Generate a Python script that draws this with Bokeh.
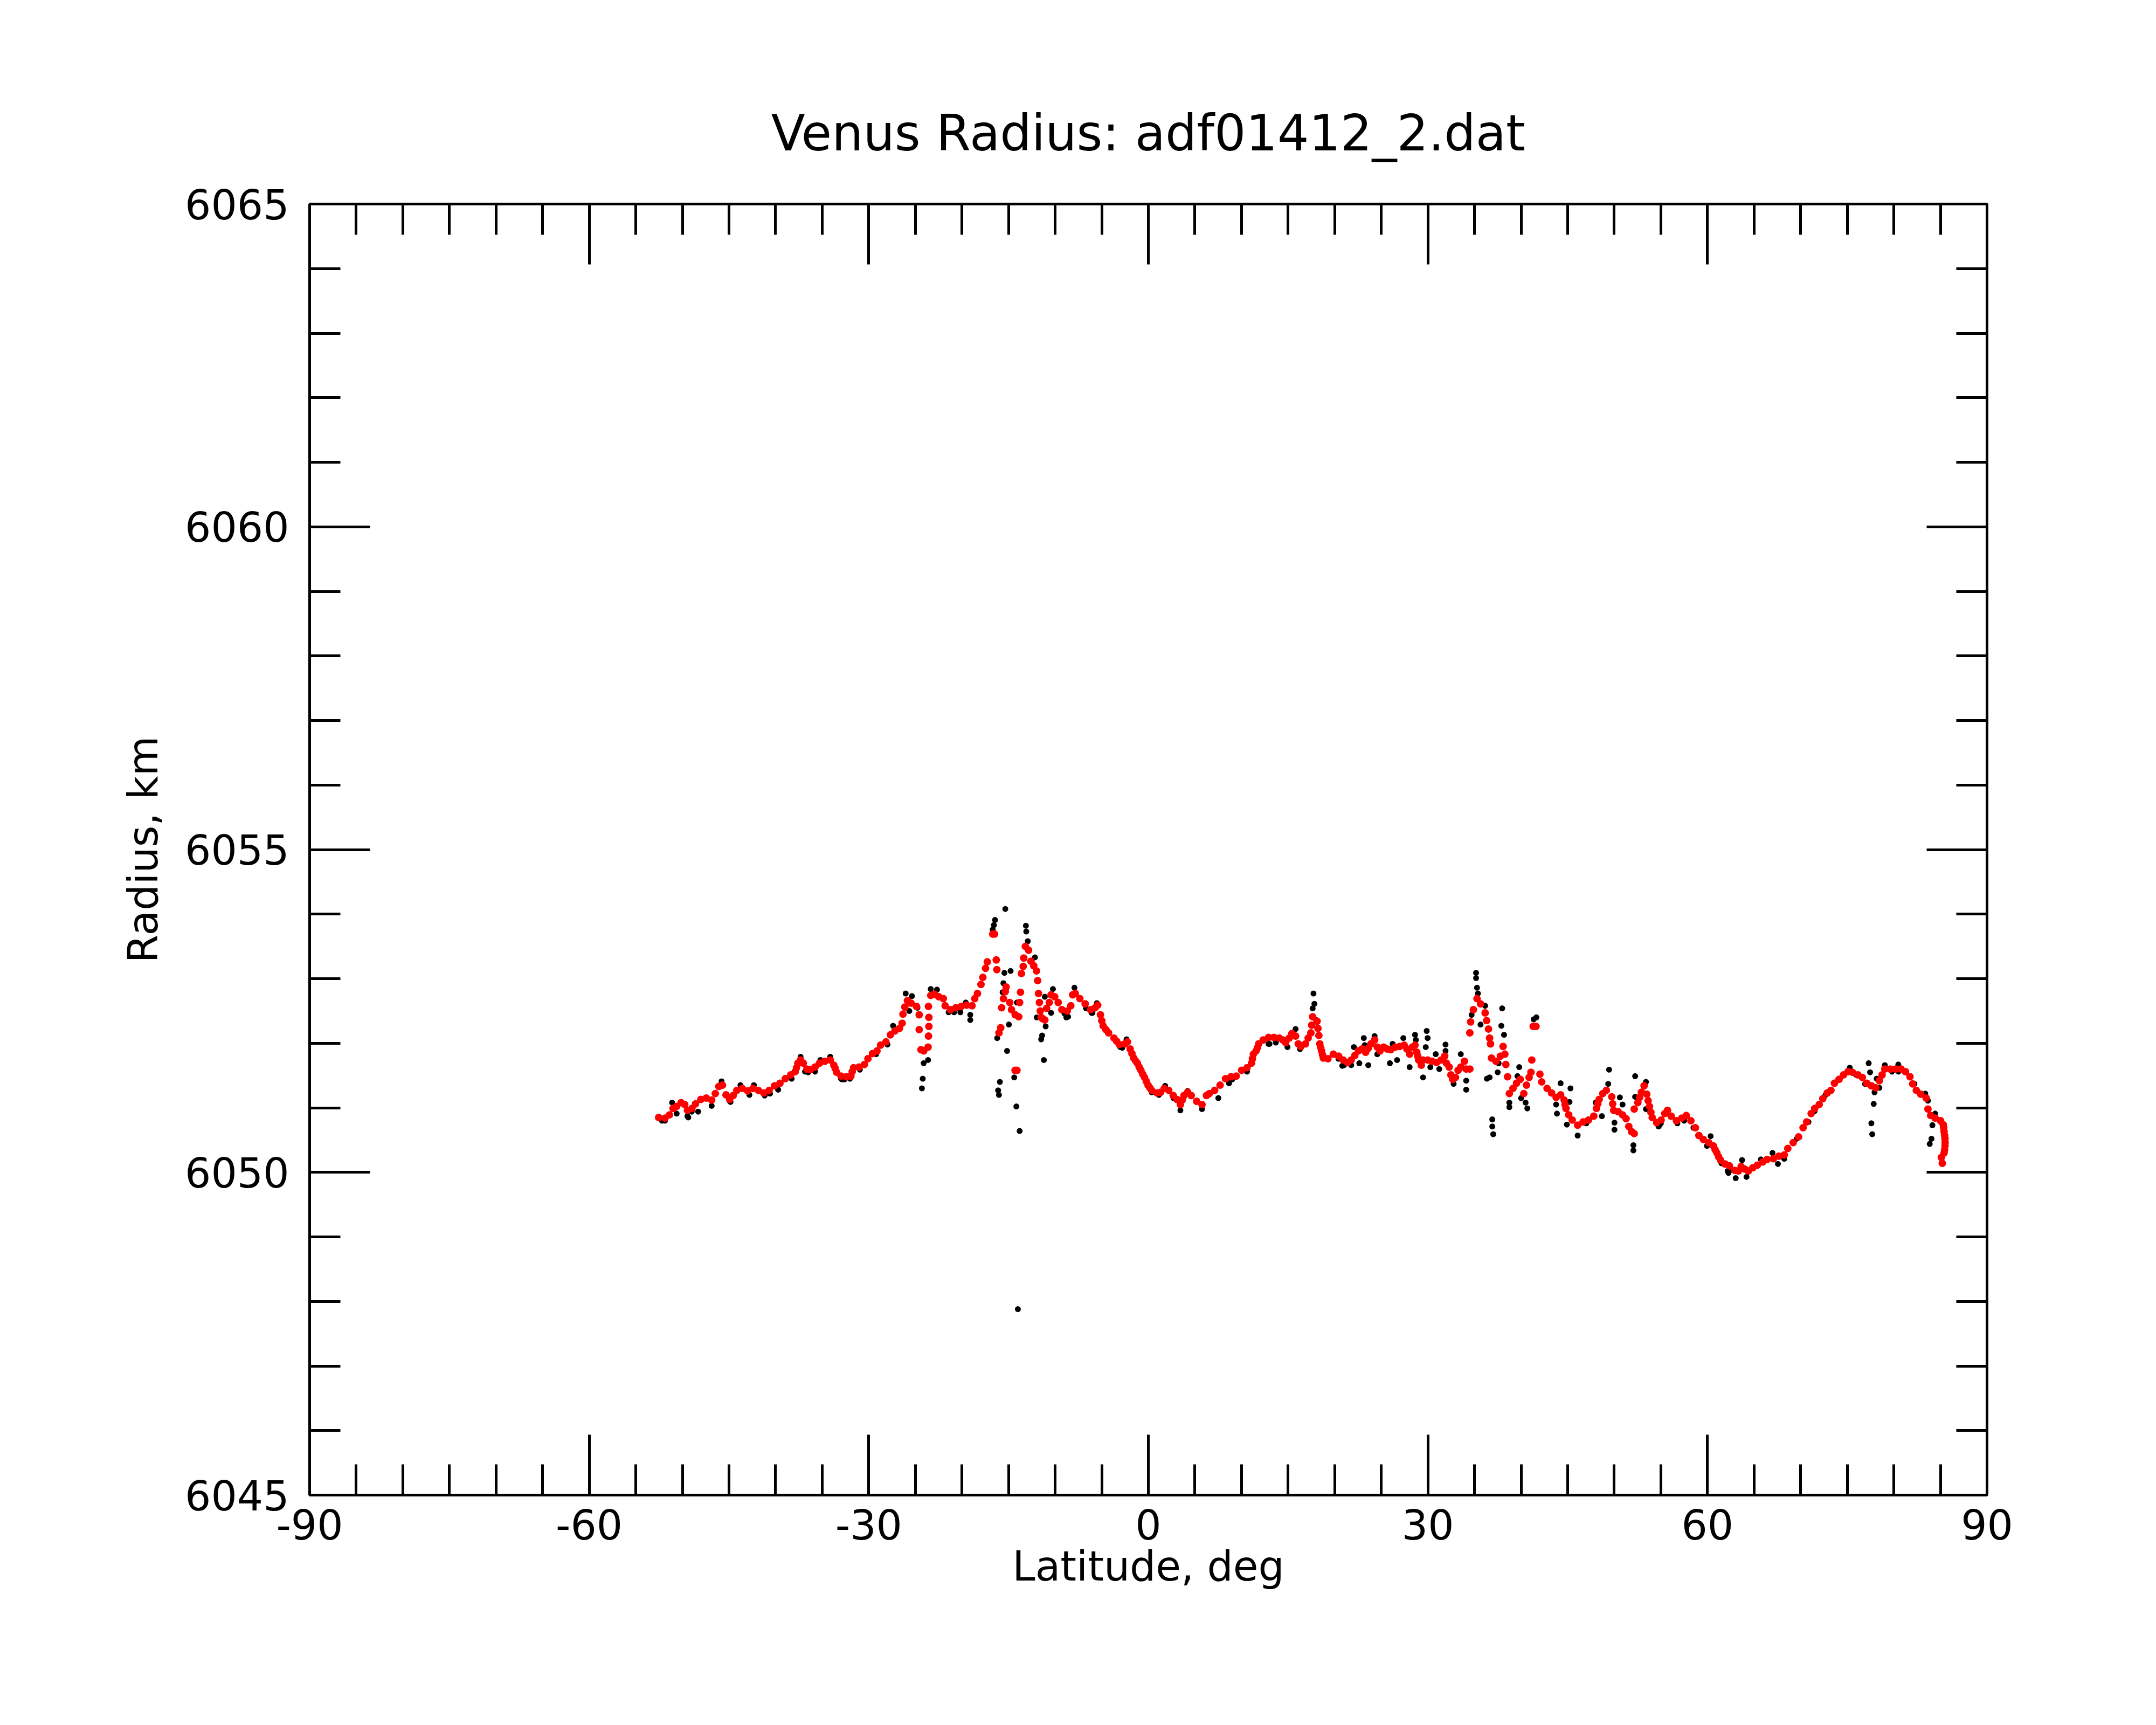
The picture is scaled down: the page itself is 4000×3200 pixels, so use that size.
from bokeh.plotting import figure
from bokeh.models import Range1d, LinearAxis, FixedTicker, CustomJSTickFormatter, ColumnDataSource
from bokeh.embed import file_html
from bokeh.resources import INLINE

# ---- data ----
x_major_ticks = [-90, -60, -30, 0, 30, 60, 90]
y_major_ticks = [6045, 6050, 6055, 6060, 6065]

red_lat = [
    -52.55, -51.87, -51.39, -51.00, -50.62, -50.14, -49.75, -49.46, -48.98, -48.59,
    -48.02, -47.44, -46.86, -46.47, -46.09, -45.70, -45.32, -44.93, -44.55, -44.16,
    -43.58, -43.00, -42.43, -41.85, -41.27, -40.69, -40.11, -39.53, -38.96, -38.38,
    -37.90, -37.75, -37.61, -37.32, -37.03, -36.64, -36.26, -35.77, -35.29, -34.71,
    -34.14, -33.75, -33.60, -33.46, -32.98, -32.40, -31.92, -31.78, -31.63, -31.05,
    -30.47, -30.09, -29.60, -29.12, -28.74, -28.16, -27.68, -27.20, -26.71, -26.42,
    -26.33, -26.13, -25.85, -25.46, -24.88, -24.59, -24.59, -24.40, -24.10, -23.64,
    -23.59, -23.55, -23.55, -23.60, -23.35, -22.97, -22.49, -22.00, -21.81, -21.23,
    -20.66, -20.08, -19.50, -18.92, -18.63, -18.34, -17.96, -17.76, -17.47, -17.28,
    -16.70, -16.50, -16.32, -16.26, -16.03, -15.84, -15.74, -15.55, -15.35, -15.26,
    -14.87, -14.68, -14.29, -14.30, -14.10, -13.91, -13.81, -13.72, -13.62, -13.43,
    -13.37, -13.20, -12.85, -12.60, -12.30, -12.00, -11.88, -11.79, -11.69, -11.60,
    -11.50, -11.35, -11.11, -10.92, -10.63, -10.44, -10.05, -9.67, -9.28, -8.70,
    -8.32, -8.12, -7.84, -7.35, -6.78, -6.20, -5.71, -5.43, -5.14, -5.00,
    -4.85, -4.55, -4.27, -3.69, -3.40, -3.11, -2.53, -2.24, -1.95, -1.76,
    -1.57, -1.38, -1.18, -0.99, -0.80, -0.60, -0.41, -0.22, -0.03, 0.16,
    0.36, 0.94, 1.32, 1.71, 2.19, 2.67, 3.06, 3.44, 3.64, 3.83,
    4.21, 4.60, 5.18, 5.76, 6.24, 6.54, 7.12, 7.70, 8.28, 8.86,
    9.43, 10.01, 10.59, 11.07, 11.17, 11.27, 11.56, 11.70, 11.84, 12.33,
    12.90, 13.48, 14.06, 14.45, 14.74, 15.12, 15.41, 15.80, 16.09, 16.37,
    16.86, 17.15, 17.44, 17.53, 17.63, 18.11, 18.20, 18.30, 18.40, 18.50,
    18.59, 18.69, 18.78, 19.27, 19.85, 20.42, 20.91, 21.39, 21.77, 22.16,
    22.54, 22.93, 23.32, 23.60, 23.89, 24.28, 24.57, 24.86, 25.24, 25.63,
    26.01, 26.50, 26.98, 27.46, 27.75, 28.04, 28.33, 28.62, 28.81, 28.90,
    29.00, 29.29, 29.48, 29.97, 30.45, 30.93, 31.41, 31.80, 31.99, 32.28,
    32.47, 32.67, 32.96, 33.24, 33.53, 33.92, 34.11, 34.50, 34.50, 34.59,
    34.88, 35.27, 35.65, 36.14, 36.30, 36.50, 36.62, 36.72, 36.82, 37.30,
    37.78, 38.07, 38.26, 38.36, 38.55, 38.74, 39.13, 39.51, 39.90, 40.29,
    40.58, 40.86, 41.06, 41.15, 41.30, 41.60, 42.02, 42.21, 42.79, 43.27,
    43.76, 44.24, 44.62, 44.72, 44.82, 45.11, 45.49, 46.07, 46.65, 47.23,
    47.80, 48.09, 48.23, 48.38, 48.77, 49.15, 49.73, 49.83, 49.93, 50.41,
    50.89, 51.27, 51.56, 51.85, 52.14, 52.14, 52.53, 52.72, 52.91, 53.20,
    53.49, 53.63, 53.78, 53.93, 54.07, 54.55, 55.03, 55.42, 55.71, 56.10,
    56.67, 57.25, 57.73, 58.22, 58.70, 59.08, 59.56, 60.14, 60.63, 60.82,
    61.01, 61.20, 61.40, 61.88, 62.36, 62.94, 63.32, 63.61, 64.00, 64.39,
    64.87, 65.35, 65.93, 66.41, 67.08, 67.66, 68.24, 68.62, 69.20, 69.78,
    70.26, 70.64, 71.13, 71.51, 71.99, 72.38, 72.86, 73.25, 73.63, 74.12,
    74.60, 75.08, 75.56, 76.14, 76.62, 77.10, 77.59, 78.07, 78.45, 78.74,
    79.03, 79.61, 80.19, 80.77, 81.25, 81.73, 82.02, 82.41, 82.89, 83.47,
    83.66, 83.95, 84.43, 85.01, 85.30, 85.35, 85.39, 85.45, 85.49, 85.50,
    85.49, 85.45, 85.39, 85.10, 85.20,
]
red_radius = [
    6050.85, 6050.84, 6050.89, 6050.99, 6051.02, 6051.08, 6051.05, 6050.96, 6050.99, 6051.06,
    6051.13, 6051.15, 6051.12, 6051.22, 6051.33, 6051.35, 6051.20, 6051.13, 6051.19, 6051.27,
    6051.30, 6051.26, 6051.30, 6051.27, 6051.23, 6051.27, 6051.34, 6051.38, 6051.45, 6051.51,
    6051.56, 6051.62, 6051.69, 6051.74, 6051.69, 6051.60, 6051.59, 6051.63, 6051.69, 6051.72,
    6051.74, 6051.66, 6051.61, 6051.55, 6051.49, 6051.48, 6051.49, 6051.56, 6051.62, 6051.63,
    6051.67, 6051.76, 6051.84, 6051.88, 6051.97, 6052.02, 6052.13, 6052.19, 6052.23, 6052.31,
    6052.45, 6052.56, 6052.66, 6052.62, 6052.57, 6052.44, 6052.21, 6051.90, 6051.88, 6051.94,
    6052.11, 6052.26, 6052.40, 6052.57, 6052.74, 6052.76, 6052.72, 6052.69, 6052.58, 6052.52,
    6052.55, 6052.57, 6052.59, 6052.58, 6052.69, 6052.77, 6052.91, 6053.02, 6053.16, 6053.26,
    6053.69, 6053.69, 6053.29, 6053.14, 6052.16, 6052.24, 6052.55, 6052.69, 6052.80, 6052.87,
    6052.63, 6052.52, 6052.44, 6051.58, 6051.58, 6052.41, 6052.63, 6052.79, 6053.08, 6053.19,
    6053.32, 6053.50, 6053.44, 6053.27, 6053.20, 6053.12, 6052.97, 6052.77, 6052.63, 6052.50,
    6052.40, 6052.38, 6052.36, 6052.54, 6052.63, 6052.75, 6052.72, 6052.63, 6052.52, 6052.50,
    6052.58, 6052.75, 6052.77, 6052.69, 6052.61, 6052.52, 6052.55, 6052.59, 6052.44, 6052.35,
    6052.27, 6052.21, 6052.16, 6052.08, 6052.03, 6051.98, 6051.99, 6052.02, 6051.91, 6051.84,
    6051.77, 6051.73, 6051.69, 6051.63, 6051.58, 6051.52, 6051.47, 6051.41, 6051.35, 6051.31,
    6051.27, 6051.23, 6051.24, 6051.30, 6051.27, 6051.19, 6051.13, 6051.05, 6051.12, 6051.19,
    6051.24, 6051.19, 6051.10, 6051.05, 6051.19, 6051.22, 6051.27, 6051.35, 6051.45, 6051.48,
    6051.49, 6051.58, 6051.62, 6051.69, 6051.76, 6051.83, 6051.88, 6051.93, 6051.99, 6052.05,
    6052.09, 6052.09, 6052.08, 6052.05, 6052.01, 6052.08, 6052.15, 6052.11, 6051.99, 6051.95,
    6051.99, 6052.08, 6052.16, 6052.28, 6052.41, 6052.34, 6052.23, 6052.12, 6051.99, 6051.93,
    6051.88, 6051.82, 6051.77, 6051.76, 6051.83, 6051.80, 6051.74, 6051.70, 6051.74, 6051.81,
    6051.88, 6051.91, 6051.86, 6051.92, 6051.99, 6052.05, 6051.94, 6051.88, 6051.94, 6051.91,
    6051.90, 6051.94, 6051.95, 6051.97, 6051.91, 6051.83, 6051.94, 6051.97, 6051.86, 6051.80,
    6051.74, 6051.66, 6051.74, 6051.74, 6051.72, 6051.70, 6051.74, 6051.80, 6051.69, 6051.63,
    6051.51, 6051.44, 6051.47, 6051.58, 6051.63, 6051.72, 6051.60, 6051.60, 6052.16, 6052.33,
    6052.52, 6052.69, 6052.61, 6052.47, 6052.35, 6052.22, 6052.08, 6051.99, 6051.77, 6051.72,
    6051.80, 6051.95, 6051.83, 6051.67, 6051.48, 6051.22, 6051.30, 6051.38, 6051.44, 6051.22,
    6051.35, 6051.47, 6051.55, 6051.74, 6052.26, 6052.26, 6051.52, 6051.40, 6051.30, 6051.23,
    6051.16, 6051.20, 6051.12, 6051.05, 6050.99, 6050.89, 6050.81, 6050.73, 6050.78, 6050.81,
    6050.87, 6050.99, 6051.06, 6051.13, 6051.22, 6051.27, 6051.17, 6051.06, 6050.96, 6050.94,
    6050.89, 6050.83, 6050.71, 6050.63, 6050.60, 6050.98, 6051.08, 6051.16, 6051.24, 6051.34,
    6051.21, 6051.11, 6051.02, 6050.93, 6050.85, 6050.77, 6050.81, 6050.91, 6050.96, 6050.87,
    6050.80, 6050.84, 6050.88, 6050.80, 6050.69, 6050.57, 6050.51, 6050.46, 6050.41, 6050.35,
    6050.30, 6050.24, 6050.19, 6050.13, 6050.10, 6050.03, 6050.02, 6050.09, 6050.05, 6050.02,
    6050.07, 6050.11, 6050.16, 6050.20, 6050.21, 6050.25, 6050.27, 6050.37, 6050.46, 6050.55,
    6050.69, 6050.78, 6050.91, 6050.99, 6051.05, 6051.14, 6051.23, 6051.27, 6051.38, 6051.44,
    6051.51, 6051.56, 6051.55, 6051.51, 6051.47, 6051.38, 6051.34, 6051.31, 6051.42, 6051.51,
    6051.60, 6051.60, 6051.60, 6051.60, 6051.56, 6051.48, 6051.37, 6051.27, 6051.21, 6051.15,
    6050.98, 6050.88, 6050.84, 6050.80, 6050.74, 6050.69, 6050.63, 6050.57, 6050.52, 6050.46,
    6050.41, 6050.35, 6050.30, 6050.23, 6050.14,
]

black_lat = [
    -52.20, -51.10, -50.62, -49.46, -49.00, -48.31, -46.86, -45.80, -44.90, -44.84,
    -43.77, -42.33, -41.17, -40.60, -39.73, -37.32, -36.50, -35.77, -35.19, -34.14,
    -32.98, -32.60, -32.02, -30.96, -29.22, -28.00, -27.39, -26.04, -25.37, -25.65,
    -24.78, -24.11, -24.21, -24.30, -24.30, -23.35, -22.68, -19.11, -19.11, -19.59,
    -20.17, -23.64, -16.45, -16.57, -16.70, -15.35, -15.45, -14.78, -15.55, -15.64,
    -14.97, -16.22, -15.16, -14.39, -15.93, -16.12, -16.03, -14.16, -13.81, -14.00,
    -13.14, -13.10, -12.94, -12.17, -14.10, -11.98, -11.02, -11.40, -11.50, -11.21,
    -11.11, -10.44, -10.24, -9.00, -8.61, -7.93, -6.68, -6.00, -5.52, -2.80,
    -2.34, -3.01, 0.36, 1.13, 1.80, 2.70, 3.44, 4.21, 5.76, 7.51,
    8.66, 9.00, 10.59, 12.90, 13.68, 14.93, 15.80, 16.28, 17.72, 17.82,
    17.63, 18.01, 20.40, 21.00, 21.77, 22.06, 22.64, 23.12, 23.22, 23.60,
    24.28, 24.57, 25.15, 25.92, 26.21, 26.69, 27.36, 28.04, 28.62, 28.71,
    29.48, 29.77, 29.87, 29.97, 30.26, 30.84, 31.22, 31.89, 31.89, 32.76,
    33.53, 34.11, 34.11, 35.17, 35.17, 35.27, 35.37, 34.69, 35.65, 36.14,
    36.33, 37.97, 37.88, 38.17, 36.62, 36.91, 36.91, 37.01, 37.49, 37.59,
    39.80, 39.61, 38.74, 38.74, 40.00, 40.67, 40.48, 41.64, 41.35, 44.24,
    45.30, 45.20, 43.76, 43.85, 44.91, 46.07, 47.00, 48.00, 48.67, 49.35,
    49.44, 50.60, 50.89, 50.02, 50.02, 52.05, 52.05, 52.24, 52.24, 53.40,
    53.40, 54.84, 55.00, 56.77, 57.50, 58.50, 59.95, 60.34, 61.50, 62.17,
    62.60, 63.03, 63.71, 64.19, 65.73, 66.98, 67.56, 68.24, 69.58, 70.84,
    71.50, 72.67, 75.27, 75.95, 76.91, 77.30, 77.45, 78.16, 78.45, 77.93,
    77.84, 77.59, 77.68, 79.03, 79.80, 80.48, 80.50, 82.21, 83.37, 83.66,
    84.43, 84.14, 84.04, 83.85, -51.87, -49.37, -42.81, -38.28, -36.84, -32.88,
    -21.43, -20.85, -8.80, -6.10, 13.00, 20.81, 54.75, 62.26,
]
black_radius = [
    6050.80, 6051.08, 6050.91, 6050.87, 6050.94, 6050.94, 6051.03, 6051.41, 6051.10, 6051.09,
    6051.35, 6051.35, 6051.19, 6051.22, 6051.28, 6051.79, 6051.55, 6051.56, 6051.74, 6051.79,
    6051.45, 6051.44, 6051.45, 6051.59, 6051.83, 6051.98, 6052.27, 6052.77, 6052.73, 6052.50,
    6052.55, 6051.69, 6051.45, 6051.30, 6051.90, 6052.84, 6052.83, 6052.36, 6052.44, 6052.63,
    6052.48, 6051.74, 6053.91, 6053.83, 6053.76, 6054.08, 6053.09, 6053.12, 6052.93, 6052.79,
    6052.29, 6052.08, 6051.88, 6051.47, 6051.40, 6051.27, 6051.20, 6051.02, 6050.64, 6047.88,
    6053.82, 6053.73, 6053.58, 6053.33, 6052.63, 6052.40, 6052.26, 6052.12, 6052.06, 6051.74,
    6052.72, 6052.47, 6052.84, 6052.46, 6052.41, 6052.86, 6052.54, 6052.47, 6052.62, 6051.93,
    6052.06, 6051.94, 6051.24, 6051.20, 6051.34, 6051.15, 6050.96, 6051.26, 6050.98, 6051.15,
    6051.38, 6051.44, 6051.56, 6051.99, 6052.01, 6051.94, 6052.22, 6051.91, 6052.77, 6052.61,
    6052.54, 6052.36, 6051.76, 6051.66, 6051.66, 6051.94, 6051.69, 6052.08, 6051.97, 6051.66,
    6052.11, 6051.83, 6051.94, 6051.69, 6051.99, 6051.74, 6052.08, 6051.63, 6052.13, 6052.05,
    6051.47, 6051.94, 6052.19, 6052.08, 6051.63, 6051.83, 6051.60, 6051.98, 6051.88, 6051.37,
    6051.83, 6051.42, 6051.28, 6053.09, 6053.01, 6052.86, 6052.77, 6052.44, 6052.29, 6052.58,
    6051.45, 6052.54, 6052.27, 6052.13, 6051.47, 6050.82, 6050.71, 6050.59, 6051.55, 6051.69,
    6051.63, 6051.49, 6051.08, 6051.01, 6051.15, 6050.99, 6051.08, 6052.40, 6052.37, 6051.38,
    6051.30, 6051.09, 6051.05, 6050.91, 6050.74, 6050.57, 6050.76, 6051.08, 6050.87, 6051.37,
    6051.59, 6051.16, 6051.05, 6050.77, 6050.66, 6050.42, 6050.34, 6051.49, 6051.17, 6050.98,
    6051.40, 6050.73, 6050.76, 6050.76, 6050.80, 6050.69, 6050.41, 6050.56, 6050.14, 6050.02,
    6050.04, 6049.91, 6050.19, 6049.93, 6050.20, 6050.30, 6050.13, 6050.21, 6050.52, 6050.78,
    6050.95, 6051.20, 6051.62, 6051.51, 6051.37, 6051.69, 6051.55, 6051.45, 6051.31, 6051.24,
    6051.06, 6050.76, 6050.59, 6051.66, 6051.56, 6051.67, 6051.56, 6051.37, 6051.22, 6051.11,
    6050.91, 6050.73, 6050.52, 6050.44, 6050.80, 6050.85, 6051.20, 6051.45, 6051.56, 6051.44,
    6052.48, 6052.48, 6052.40, 6052.47, 6051.99, 6051.65, 6050.71, 6049.99,
]

title_text = "Venus Radius: adf01412_2.dat"
x_label = "Latitude, deg"
y_label = "Radius, km"

FONT = "DejaVu Sans"
LW = 5

p = figure(
    frame_width=3112, frame_height=2395,
    x_range=Range1d(-90, 90), y_range=Range1d(6045, 6065),
    output_backend="svg", toolbar_location=None,
    min_border_left=574, min_border_right=298,
    min_border_top=378, min_border_bottom=411,
    x_axis_label=x_label, y_axis_label=y_label,
    title=title_text,
)
p.background_fill_color = "white"
p.border_fill_color = "white"
p.xgrid.visible = False
p.ygrid.visible = False
p.outline_line_color = "black"
p.outline_line_width = LW

p.title.text_font = FONT
p.title.text_font_size = "92px"
p.title.text_font_style = "normal"
p.title.align = "center"
p.title.text_color = "black"
p.title.standoff = 155

xt = FixedTicker(ticks=x_major_ticks, minor_ticks=list(range(-90, 91, 5)))
yt = FixedTicker(ticks=y_major_ticks, minor_ticks=list(range(6045, 6066)))
plain = CustomJSTickFormatter(code="return tick.toFixed(0)")


def style(ax, ticker):
    ax.ticker = ticker
    ax.axis_line_width = LW
    ax.axis_line_color = "black"
    ax.major_tick_line_width = LW
    ax.major_tick_line_color = "black"
    ax.major_tick_in = 112
    ax.major_tick_out = 0
    ax.minor_tick_line_width = LW
    ax.minor_tick_line_color = "black"
    ax.minor_tick_in = 57
    ax.minor_tick_out = 0
    ax.major_label_text_font = FONT
    ax.major_label_text_font_size = "76px"
    ax.major_label_text_color = "black"
    ax.axis_label_text_font = FONT
    ax.axis_label_text_font_size = "76px"
    ax.axis_label_text_font_style = "normal"
    ax.axis_label_text_color = "black"


style(p.xaxis[0], xt)
style(p.yaxis[0], yt)
p.xaxis[0].formatter = plain
p.yaxis[0].formatter = plain
p.xaxis[0].major_label_standoff = 26
p.xaxis[0].axis_label_standoff = 2
p.yaxis[0].major_label_standoff = 38
p.yaxis[0].axis_label_standoff = 30

blank = CustomJSTickFormatter(code="return ''")
top = LinearAxis(formatter=blank)
style(top, xt)
top.major_label_standoff = 0
p.add_layout(top, "above")
right = LinearAxis(formatter=blank)
style(right, yt)
right.major_label_standoff = 0
p.add_layout(right, "right")

black_src = ColumnDataSource(data=dict(x=black_lat, y=black_radius))
red_src = ColumnDataSource(data=dict(x=red_lat, y=red_radius))
p.scatter("x", "y", source=black_src, size=11, color="black", line_color=None)
p.scatter("x", "y", source=red_src, size=14, color="red", line_color=None)

open("out.html", "w").write(file_html(p, INLINE))
